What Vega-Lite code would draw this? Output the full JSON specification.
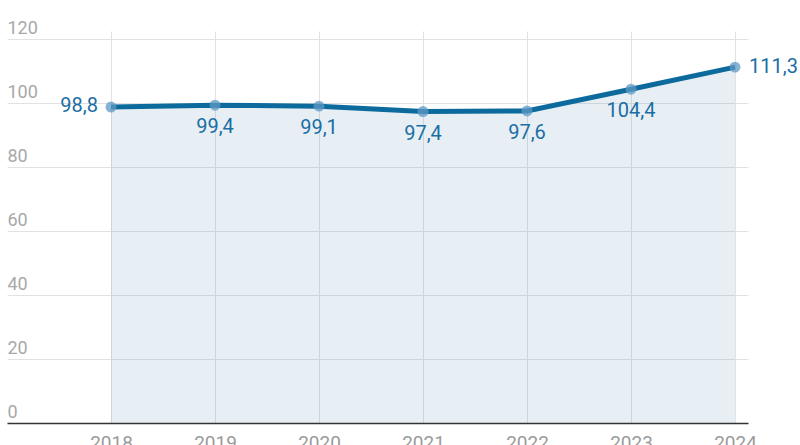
{
  "$schema": "https://vega.github.io/schema/vega-lite/v6.json",
  "width": 741,
  "height": 392,
  "autosize": {"type": "none"},
  "padding": {"left": 7, "top": 31, "right": 52, "bottom": 22},
  "background": "white",
  "config": {"view": {"stroke": null}, "font": "Roboto"},
  "data": {
    "values": [
      {"year": 2018, "value": 98.8, "label": "98,8", "pos": "left"},
      {"year": 2019, "value": 99.4, "label": "99,4", "pos": "below"},
      {"year": 2020, "value": 99.1, "label": "99,1", "pos": "below"},
      {"year": 2021, "value": 97.4, "label": "97,4", "pos": "below"},
      {"year": 2022, "value": 97.6, "label": "97,6", "pos": "below"},
      {"year": 2023, "value": 104.4, "label": "104,4", "pos": "below"},
      {"year": 2024, "value": 111.3, "label": "111,3", "pos": "right"}
    ]
  },
  "encoding": {
    "x": {
      "field": "year",
      "type": "quantitative",
      "scale": {"domain": [2017, 2024.125], "nice": false, "zero": false},
      "axis": {
        "values": [2018, 2019, 2020, 2021, 2022, 2023, 2024],
        "format": "d",
        "grid": true,
        "gridColor": "#e2e2e2",
        "ticks": false,
        "labelPadding": 10,
        "labelFontSize": 19,
        "labelColor": "#9a9a9a",
        "domainColor": "#333333",
        "domainWidth": 1.5,
        "title": null
      }
    },
    "y": {
      "field": "value",
      "type": "quantitative",
      "scale": {"domain": [0, 122.6], "nice": false},
      "axis": {
        "values": [0, 20, 40, 60, 80, 100, 120],
        "grid": true,
        "gridColor": "#e2e2e2",
        "domain": false,
        "ticks": false,
        "labelAlign": "left",
        "labelPadding": 0,
        "labelBaseline": "alphabetic",
        "labelOffset": -6,
        "labelFontSize": 18,
        "labelColor": "#a8a8a8",
        "title": null
      }
    }
  },
  "layer": [
    {"mark": {"type": "area", "color": "#3b78b0", "opacity": 0.12}},
    {"mark": {"type": "line", "color": "#0d6a9c", "strokeWidth": 5}},
    {"mark": {"type": "circle", "size": 120, "color": "#5d9ac6", "opacity": 0.75}},
    {
      "transform": [{"filter": "datum.pos == 'left'"}],
      "mark": {"type": "text", "align": "right", "baseline": "middle", "dx": -13, "dy": -1, "fontSize": 20, "color": "#1a6ea3"},
      "encoding": {"text": {"field": "label"}}
    },
    {
      "transform": [{"filter": "datum.pos == 'below'"}],
      "mark": {"type": "text", "align": "center", "baseline": "middle", "dy": 22, "fontSize": 20, "color": "#1a6ea3"},
      "encoding": {"text": {"field": "label"}}
    },
    {
      "transform": [{"filter": "datum.pos == 'right'"}],
      "mark": {"type": "text", "align": "left", "baseline": "middle", "dx": 14, "fontSize": 20, "color": "#1a6ea3"},
      "encoding": {"text": {"field": "label"}}
    }
  ]
}
